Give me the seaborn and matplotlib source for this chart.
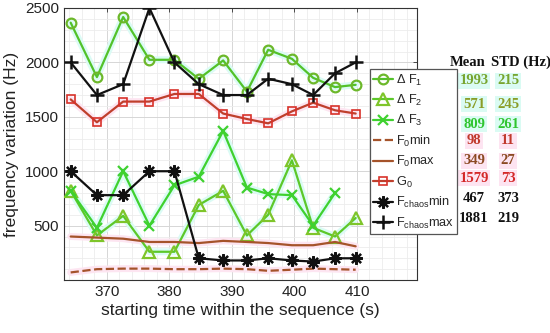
import matplotlib
matplotlib.use("Agg")
import matplotlib.pyplot as plt
from matplotlib.ticker import MultipleLocator
import seaborn as sns

# ---- data ----
t = [364.2, 368.4, 372.6, 376.8, 380.8, 384.7, 388.6, 392.4, 395.8, 399.6, 403.0, 406.5, 409.8]
dF1 = [2365, 1865, 2417, 2024, 2024, 1849, 2018, 1732, 2116, 2033, 1858, 1773, 1794]
dF2 = [820, 410, 590, 260, 260, 690, 820, 410, 600, 1100, 480, 400, 570]
dF3 = [820, 480, 1000, 500, 870, 950, 1370, 850, 790, 780, 500, 800]
F0min = [70, 100, 105, 105, 100, 100, 105, 100, 85, 95, 105, 100, 95]
F0max = [400, 390, 380, 350, 350, 340, 360, 350, 340, 320, 320, 350, 310]
G0 = [1660, 1450, 1640, 1640, 1710, 1710, 1530, 1480, 1440, 1550, 1630, 1560, 1530]
Fchaos_min = [1000, 780, 780, 1000, 1000, 200, 180, 180, 200, 180, 170, 200, 200]
Fchaos_max = [2000, 1700, 1800, 2500, 2000, 1800, 1700, 1700, 1850, 1800, 1700, 1900, 2000]

labels = ['Δ F$_{\\mathregular{1}}$', 'Δ F$_{\\mathregular{2}}$', 'Δ F$_{\\mathregular{3}}$',
          'F$_{\\mathregular{0}}$min', 'F$_{\\mathregular{0}}$max', 'G$_{\\mathregular{0}}$',
          'F$_{\\mathregular{chaos}}$min', 'F$_{\\mathregular{chaos}}$max']
means = ['1993', '571', '809', '98', '349', '1579', '467', '1881']
stds = ['215', '245', '261', '11', '27', '73', '373', '219']

sns.set_theme(style="white")
plt.rcParams['font.family'] = ['Liberation Sans', 'DejaVu Sans']
plt.rcParams['mathtext.fontset'] = 'custom'
plt.rcParams['mathtext.rm'] = 'Liberation Sans'

fig = plt.figure(figsize=(5.5, 3.33), dpi=100)
ax = fig.add_axes([0.116, 0.159, 0.642, 0.817])

green1 = '#52c22a'
green2 = '#5cc82a'
green3 = '#3fd12f'
brown = '#a5532a'
red = '#bf3f2c'
black = '#111111'
cyan_glow = '#dbfbf5'
pink_glow = '#fde5f1'

series = [
    (dF1, dict(color=green1, marker='o', markersize=7, markerfacecolor='none', markeredgecolor='#6cb82a', markeredgewidth=1.6), '-', cyan_glow),
    (dF2, dict(color=green2, marker='^', markersize=8, markerfacecolor='none', markeredgecolor='#7ec52a', markeredgewidth=1.6), '-', cyan_glow),
    (dF3, dict(color=green3, marker='x', markersize=7, markeredgecolor=green3, markeredgewidth=1.6), '-', cyan_glow),
    (F0min, dict(color=brown), '--', pink_glow),
    (F0max, dict(color=brown), '-', pink_glow),
    (G0, dict(color=red, marker='s', markersize=6, markerfacecolor='none', markeredgecolor='#d8322a', markeredgewidth=1.2), '-', pink_glow),
    (Fchaos_min, dict(color=black, marker=(8, 2, 0), markersize=9, markeredgecolor=black, markeredgewidth=1.6), '-', None),
    (Fchaos_max, dict(color=black, marker='+', markersize=10, markeredgecolor=black, markeredgewidth=1.8), '-', None),
]

# soft glow underlay
for vals, kw, ls, glow in series:
    if glow is not None:
        sns.lineplot(x=t[:len(vals)], y=vals, ax=ax, color=glow, linewidth=5,
                     solid_capstyle='round', zorder=1.5, legend=False)

handles = []
for (vals, kw, ls, glow), lab in zip(series, labels):
    xs = t[:len(vals)]
    sns.lineplot(x=xs, y=vals, ax=ax, linewidth=1.6, zorder=3, legend=False, **kw)
    ln = ax.get_lines()[-1]
    ln.set_linestyle(ls)
    ln.set_label(lab)
    handles.append(ln)

if ax.get_legend() is not None:
    ax.get_legend().remove()

ax.set_xlim(363.1, 419.6)
ax.set_ylim(0, 2500)
ax.set_xticks([370, 380, 390, 400, 410])
ax.set_yticks([500, 1000, 1500, 2000, 2500])
ax.xaxis.set_minor_locator(MultipleLocator(2))
ax.yaxis.set_minor_locator(MultipleLocator(100))
ax.grid(which='major', color='#d6d6d6', linewidth=0.7)
ax.grid(which='minor', color='#ececec', linewidth=0.6)
ax.set_axisbelow(True)
ax.tick_params(which='both', direction='in', top=True, right=True, length=3, width=0.6, colors='#333333', labelsize=11)
ax.tick_params(which='minor', length=0)
for lbl in ax.get_xticklabels() + ax.get_yticklabels():
    lbl.set_color('#222222')
for s in ax.spines.values():
    s.set_color('#333333')
    s.set_linewidth(0.8)
ax.set_xlabel('starting time within the sequence (s)', fontsize=12.5, color='#222222', labelpad=3)
ax.set_ylabel('frequency variation (Hz)', fontsize=12.5, color='#222222', labelpad=4)

leg = fig.legend(handles=handles, labels=labels, loc='upper left',
                 bbox_to_anchor=(0.672, 0.792), bbox_transform=fig.transFigure,
                 frameon=True, fancybox=False, edgecolor='#555555', framealpha=1,
                 fontsize=9.2, handlelength=1.6, handletextpad=0.2,
                 labelspacing=0.42, borderpad=0.25, borderaxespad=0)
leg.get_frame().set_linewidth(0.9)
leg.set_zorder(10)

# ---- Mean / STD table ----
col_mean_x = 474 / 550
col_std_x = 508 / 550
row_y_px = [81, 104, 124, 141, 161, 178, 198, 218]
txt_cols = ['#78a52f', '#8a9d27', '#2fc52f', '#c0392b', '#8b4a22', '#d42828', '#111111', '#111111']
bg_cols = ['#dafbf3', '#dafbf3', '#dafbf3', '#fde4f1', '#fde4f1', '#fde4f1', None, None]
serif = ['Liberation Serif', 'DejaVu Serif']
fig.text(468 / 550, 1 - 62 / 333, 'Mean', ha='center', va='center', fontsize=10.5,
         fontweight='bold', family=serif, color='#111111')
fig.text(521 / 550, 1 - 62 / 333, 'STD (Hz)', ha='center', va='center', fontsize=10.5,
         fontweight='bold', family=serif, color='#111111')
for m, s, y, c, bg in zip(means, stds, row_y_px, txt_cols, bg_cols):
    bb = None if bg is None else dict(facecolor=bg, edgecolor='none', pad=1.2)
    fig.text(col_mean_x, 1 - y / 333, m, ha='center', va='center', fontsize=10.5,
             fontweight='bold', family=serif, color=c, bbox=bb)
    fig.text(col_std_x, 1 - y / 333, s, ha='center', va='center', fontsize=10.5,
             fontweight='bold', family=serif, color=c, bbox=bb)

fig.savefig('out.png', dpi=100)
